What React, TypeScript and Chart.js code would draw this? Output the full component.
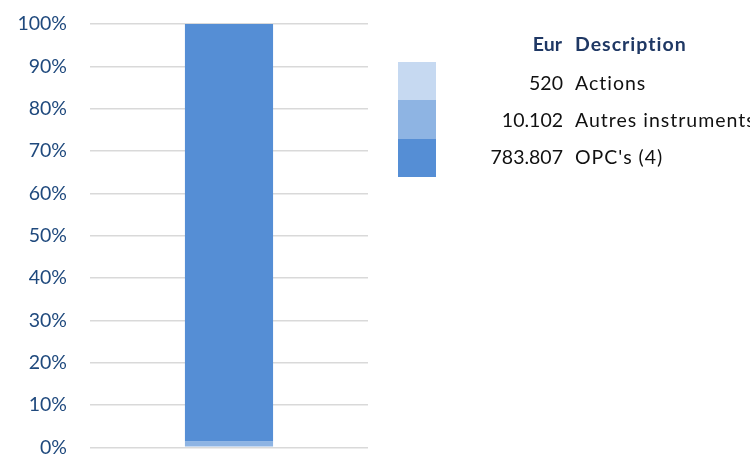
import React, { useEffect, useRef } from "react";
import { Chart, registerables } from "chart.js";

Chart.register(...registerables);

const categories = [""];
const seriesNames = ["Autres instruments", "Actions", "OPC's (4)"];
const seriesValues = [10.102, 0.52, 783.807];
const seriesColors = ["#8EB4E3", "#C6D9F1", "#558ED5"];

// Legend table order (top to bottom)
const legendNames = ["Actions", "Autres instruments", "OPC's (4)"];
const legendValues = ["520", "10.102", "783.807"];
const legendColors = ["#C6D9F1", "#8EB4E3", "#558ED5"];

const yTicks = [0, 10, 20, 30, 40, 50, 60, 70, 80, 90, 100];

const FONT = "Lato, 'Open Sans', sans-serif";
const FS = 19.5;

export default function App() {
  const ref = useRef<HTMLCanvasElement | null>(null);

  useEffect(() => {
    document.body.style.margin = "0";
    const total = seriesValues.reduce((a, b) => a + b, 0);
    const chart = new Chart(ref.current as HTMLCanvasElement, {
      type: "bar",
      data: {
        labels: categories,
        datasets: seriesNames.map((n, i) => ({
          label: n,
          data: [(seriesValues[i] / total) * 100],
          backgroundColor: seriesColors[i],
          borderWidth: 0,
          barPercentage: 1,
          categoryPercentage: 0.317,
        })),
      },
      options: {
        animation: false,
        responsive: false,
        maintainAspectRatio: false,
        layout: { padding: { left: 0, right: 382, top: 24, bottom: 11 } },
        plugins: { legend: { display: false }, tooltip: { enabled: false } },
        scales: {
          x: { stacked: true, display: false },
          y: {
            stacked: true,
            min: 0,
            max: 100,
            afterBuildTicks: (s: any) => {
              s.ticks = yTicks.map((v) => ({ value: v }));
            },
            afterFit: (s: any) => {
              s.width = 90;
            },
            border: { display: false },
            grid: { color: "#D9D9D9", lineWidth: 1.5, drawTicks: true, tickLength: 23, tickColor: "rgba(0,0,0,0)" },
            ticks: {
              padding: 0,
              color: "#1F497D",
              font: { family: FONT, size: FS },
              callback: (v: any) => v + "%",
            },
          },
        },
      },
    });
    return () => chart.destroy();
  }, []);

  const rowTop = [71, 108, 145];

  return (
    <div style={{ position: "absolute", left: 0, top: 0, width: 750, height: 459, overflow: "hidden", background: "#fff", fontFamily: FONT, fontSize: FS, lineHeight: "24px" }}>
      <canvas ref={ref} width={750} height={459} style={{ position: "absolute", left: 0, top: 0 }} />
      {legendColors.map((c, i) => (
        <div key={"sw" + i} style={{ position: "absolute", left: 398, top: 62 + i * 38.3, width: 38, height: 38.3, background: c }} />
      ))}
      <div style={{ position: "absolute", left: 462, width: 100, top: 32, textAlign: "right", fontWeight: 700, color: "#1F3864", whiteSpace: "nowrap" }}>Eur</div>
      <div style={{ position: "absolute", left: 575, top: 32, fontWeight: 700, color: "#1F3864", whiteSpace: "nowrap", letterSpacing: 1 }}>Description</div>
      {legendNames.map((n, i) => (
        <React.Fragment key={"r" + i}>
          <div style={{ position: "absolute", left: 402, width: 161, top: rowTop[i], textAlign: "right", color: "#111", whiteSpace: "nowrap" }}>{legendValues[i]}</div>
          <div style={{ position: "absolute", left: 575, top: rowTop[i], color: "#111", whiteSpace: "nowrap", letterSpacing: 1 }}>{n}</div>
        </React.Fragment>
      ))}
    </div>
  );
}
